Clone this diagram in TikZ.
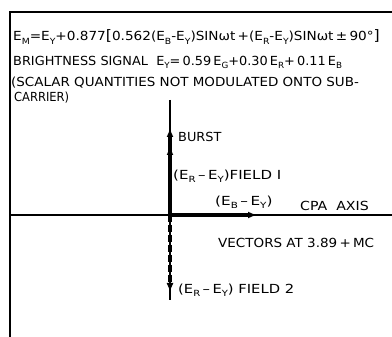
\documentclass[tikz,border=0pt]{standalone}
\usepackage{fontspec}
\usepackage{graphicx}
\setmainfont{DejaVu Sans}
\usetikzlibrary{arrows.meta}
\newcommand\sbs[1]{\raisebox{-0.45ex}{\fontsize{8.5}{9}\selectfont #1}}
\newcommand\hs[2]{\scalebox{#1}[1]{#2}}
\newcommand\mn{\,–\,}
\tikzset{
  lbl/.style={anchor=west,inner sep=0pt,font=\fontsize{12.5}{14}\selectfont},
  axis/.style={line width=1.3pt},
  vec/.style={line width=3.4pt,-{Latex[length=9pt,width=7pt]}},
}
\begin{document}
\begin{tikzpicture}[x=1pt,y=-1pt]
\useasboundingbox (0,0) rectangle (392,337);
\draw[line width=2pt] (9.5,337) -- (9.5,12) -- (392,12);
% text
\node[lbl] (t1) at (13,37) {\hs{1.09}{E\sbs{M}=E\sbs{Y}+0.877{\Large[}0.562(E\sbs{B}-E\sbs{Y})SINωt\,+(E\sbs{R}-E\sbs{Y})SINωt\,±\,90°{\Large]}}};
\node[lbl] (t2) at (13,62) {\hs{1.03}{BRIGHTNESS SIGNAL \ E\sbs{Y}=\,0.59\,E\sbs{G}+0.30\,E\sbs{R}+\,0.11\,E\sbs{B}}};
\node[lbl] (t3) at (11,83) {\hs{1.077}{(SCALAR QUANTITIES NOT MODULATED ONTO SUB-}};
\node[lbl] (t4) at (14,98) {\hs{0.92}{CARRIER)}};
% axes
\coordinate (O) at (170,215);
\coordinate (vt) at (170,100);
\coordinate (vb) at (170,300);
\coordinate (hl) at (10,215);
\coordinate (hr) at (392,215);
\draw[axis] (vt) -- (vb);
\draw[axis] (hl) -- (hr);
\coordinate (burst) at (170,128);
\coordinate (f1) at (170,146);
\coordinate (b) at (257,215);
\coordinate (f2) at (170,292);
\draw[vec] (O) -- (burst);
\draw[vec] (O) -- (f1);
\draw[vec] (O) -- (b);
\draw[line width=3.4pt,dash pattern=on 7pt off 3pt] (O) -- (170,283);
\draw[line width=1.3pt,-{Latex[length=9pt,width=7pt]}] (170,282) -- (f2);
% labels
\node[lbl] (lb) at (178,137) {\hs{1.03}{BURST}};
\node[lbl] (l1) at (173,176) {\hs{1.2}{(E\sbs{R}\mn E\sbs{Y})FIELD I}};
\node[lbl] (l2) at (215,202) {\hs{1.22}{(E\sbs{B}\mn E\sbs{Y})}};
\node[lbl] (lc) at (300,206) {\hs{1.13}{CPA \ AXIS}};
\node[lbl] (lv) at (218,243) {\hs{1.08}{VECTORS AT 3.89\,+\,MC}};
\node[lbl] (l3) at (178,290) {\hs{1.18}{(E\sbs{R}\mn E\sbs{Y}) FIELD 2}};
\end{tikzpicture}
\end{document}
